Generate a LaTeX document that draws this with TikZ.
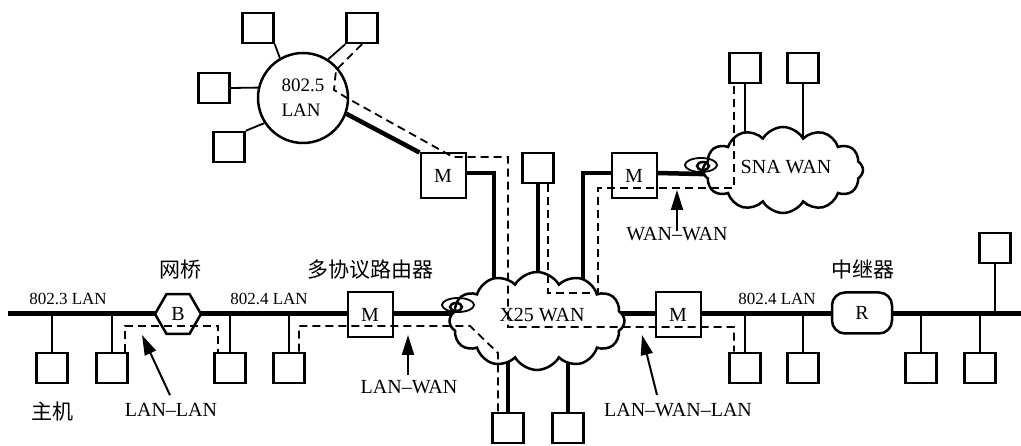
\documentclass[tikz,border=0pt]{standalone}
\usepackage{fontspec}
\setmainfont{Liberation Serif}
\newfontfamily\cjk{Noto Sans CJK SC}
\usetikzlibrary{shapes.geometric,shapes.symbols,arrows.meta}
\pgfdeclarelayer{bg}
\pgfsetlayers{bg,main}
\begin{document}
\begin{tikzpicture}[x=1pt,y=-1pt,
  box/.style={draw, line width=2.5pt, minimum width=31pt, minimum height=30pt, inner sep=0pt, fill=white},
  mbox/.style={draw, line width=2pt, minimum width=45pt, minimum height=45pt, inner sep=0pt, fill=white, font=\fontsize{20}{22}\selectfont},
  hexa/.style={draw, regular polygon, regular polygon sides=6, minimum size=46pt, inner sep=0pt, fill=white, line width=2.5pt, font=\fontsize{20}{22}\selectfont},
  rbox/.style={draw, rounded corners=13pt, minimum width=60pt, minimum height=41pt, inner sep=0pt, fill=white, line width=2.5pt, font=\fontsize{20}{22}\selectfont},
  ringst/.style={draw, circle, minimum size=90pt, inner sep=0pt, fill=white, line width=2.5pt, align=left, font=\fontsize{19}{25}\selectfont},
  wan/.style={draw, cloud, cloud puffs=12, cloud puff arc=120, cloud ignores aspect, fill=white, line width=2.5pt, inner sep=0pt},
  bus/.style={line width=5pt},
  thk/.style={line width=4.5pt},
  stub/.style={line width=1.8pt},
  route/.style={line width=1.8pt, dash pattern=on 8pt off 5pt},
  arr/.style={line width=2pt, -{Triangle[length=20pt,width=12pt]}},
  lab/.style={font=\fontsize{17}{19}\selectfont, inner sep=0pt},
  big/.style={font=\fontsize{20}{22}\selectfont, inner sep=0pt},
  cn/.style={font=\cjk\fontsize{21}{23}\selectfont, inner sep=0pt},
  coil/.style={line width=1.8pt}
]
\useasboundingbox (0,0) rectangle (1021,446);

\coordinate (busL) at (8,314);
\coordinate (busR) at (1021,314);

% host boxes
\node[box] (h1) at (52,368) {};
\node[box] (h2) at (112,368) {};
\node[box] (h3) at (230,368) {};
\node[box] (h4) at (289,368) {};
\node[box] (h5) at (745,368) {};
\node[box] (h6) at (803,368) {};
\node[box] (h7) at (921,368) {};
\node[box] (h8) at (980,368) {};
\node[box] (h9) at (995,248) {};
\node[box] (xb1) at (508,428) {};
\node[box] (xb2) at (568,428) {};
\node[box] (xt) at (538,168) {};
\node[box] (s1) at (745,68) {};
\node[box] (s2) at (803,68) {};
\node[box] (rtl) at (258,28) {};
\node[box] (rtr) at (362,28) {};
\node[box] (rl) at (214,88) {};
\node[box] (rbl) at (229,147) {};

% devices
\node[hexa] (B) at (178,314) {B};
\node[mbox] (M1) at (370,315) {M};
\node[mbox] (M2) at (678,315) {M};
\node[mbox] (Mt) at (443,176) {M};
\node[mbox] (Ms) at (634,176) {M};
\node[rbox] (R) at (862,313) {R};
\node[ringst] (ring) at (303,98) {802.5\\LAN};
\node[wan, minimum width=175pt, minimum height=98pt] (x25) at (537,321) {};
\node[wan, minimum width=160pt, minimum height=86pt] (sna) at (783,170) {};

\coordinate (j1) at (494,321);
\coordinate (j2) at (583,321);

\begin{pgfonlayer}{bg}
\draw[bus] (busL) -- (busR);
\foreach \n in {h1,h2,h3,h4,h5,h6,h7,h8,h9} \draw[stub] (\n) -- (\n |- busL);
\draw[thk] (xb1) -- (xb1 |- x25);
\draw[thk] (xb2) -- (xb2 |- x25);
\draw[thk] (xt) -- (xt |- x25);
\draw[stub] (s1) -- (s1 |- sna);
\draw[stub] (s2) -- (s2 |- sna);
\draw[thk] ([yshift=3pt]Mt.east) -| (j1);
\draw[thk] ([yshift=3pt]Ms.west) -| (j2);
\draw[thk] ([yshift=3pt]Ms.east) -- (sna.center |- Ms);
\draw[thk] (ring.340) -- (Mt.north west);
\draw[stub] (rtl.south east) -- (ring.120);
\draw[stub] (rtr.south west) -- (ring.57);
\draw[stub] (rl.east) -- (ring.167);
\draw[stub] (rbl.north east) -- (ring.213);
\end{pgfonlayer}

% dashed routes
\coordinate (c1) at (470,326);
\coordinate (c2) at (498,353);
\coordinate (w1) at (598,293);
\coordinate (w2) at (734,188);
\coordinate (v1) at (336,70);
\coordinate (v2) at (334,90);
\coordinate (v3) at (347,98);
\coordinate (v4) at (453,157);
\coordinate (v5) at (508,327);
\draw[route] ([xshift=-4pt]h2.north east) -- ++(0,-26) -| ([xshift=-12pt]h3.north);
\draw[route] ([xshift=10pt]h4.north) |- (c1) -- (c2) -- (c2 |- xb1.north);
\draw[route] ([xshift=10pt]xt.south) |- (w1) |- (w2) -- ([xshift=-11pt]s1.south);
\draw[route] (rtr.south) -- (v1) -- (v2) -- (v3) -- (v4) -| (v5) -| ([xshift=-11pt]h5.north);

% coils
\draw[coil] (458,305) ellipse [x radius=16pt, y radius=7pt];
\draw[line width=2.5pt] (456,307) ellipse [x radius=6pt, y radius=4pt];
\draw[coil] (701,165) ellipse [x radius=16pt, y radius=7pt];
\draw[line width=2.5pt] (703,166) ellipse [x radius=6pt, y radius=4pt];

% labels
\node[lab] (l8023) at (68,299) {802.3 LAN};
\node[lab] (l8024a) at (269,299) {802.4 LAN};
\node[lab] (l8024b) at (777,299) {802.4 LAN};
\node[cn] (bridge) at (180,270) {网桥};
\node[cn] (host) at (52,412) {主机};
\node[cn] (router) at (370,270) {多协议路由器};
\node[cn] (rep) at (863,270) {中继器};
\node[big] (x25l) at (542,315) {X25 WAN};
\node[big] (snal) at (786,167) {SNA WAN};

% arrows
\node[big] (lanlan) at (171,410) {LAN--LAN};
\node[big] (lanwan) at (409,387) {LAN--WAN};
\node[big] (wanwan) at (677,234) {WAN--WAN};
\node[big] (lwl) at (678,410) {LAN--WAN--LAN};
\coordinate (t1) at (142,335);
\coordinate (t2) at (408,335);
\coordinate (t3) at (677,190);
\coordinate (t4) at (642,335);
\draw[arr] ([xshift=-1pt,yshift=8pt]lanlan.north) -- (t1);
\draw[arr] ([xshift=-1pt,yshift=5pt]lanwan.north) -- (t2);
\draw[arr] ([yshift=3pt]wanwan.center) -- (t3);
\draw[arr] ([xshift=-21pt,yshift=8pt]lwl.north) -- (t4);
\end{tikzpicture}
\end{document}
